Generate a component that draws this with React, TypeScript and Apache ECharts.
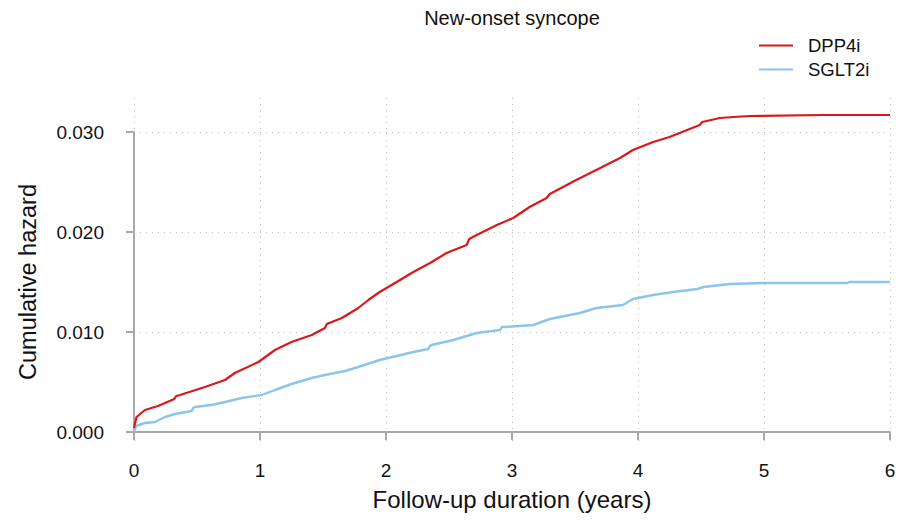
import React, { useEffect, useRef } from "react";
import * as echarts from "echarts";

const titleText = "New-onset syncope";
const xTicks = [0, 1, 2, 3, 4, 5, 6];
const seriesNames = ["DPP4i", "SGLT2i"];

const dppT = [0, 0.02, 0.087, 0.19, 0.32, 0.335, 0.365, 0.563, 0.722, 0.8, 0.987, 1.119, 1.25, 1.41, 1.516, 1.53, 1.65, 1.78, 1.86, 1.95, 2.085, 2.217, 2.35, 2.48, 2.64, 2.66, 2.72, 2.88, 3.01, 3.14, 3.275, 3.3, 3.33, 3.51, 3.7, 3.857, 3.96, 4.12, 4.25, 4.39, 4.49, 4.51, 4.545, 4.65, 4.76, 4.89, 5.47, 6];
const dppV = [0.0004, 0.0015, 0.0022, 0.0026, 0.0033, 0.0036, 0.0037, 0.0045, 0.0052, 0.0059, 0.007, 0.0082, 0.009, 0.0097, 0.0104, 0.0108, 0.0114, 0.0124, 0.0132, 0.014, 0.015, 0.016, 0.0169, 0.0179, 0.0187, 0.0193, 0.0197, 0.0207, 0.0214, 0.0225, 0.0234, 0.0238, 0.024, 0.0252, 0.0264, 0.0274, 0.0282, 0.029, 0.0295, 0.0302, 0.0307, 0.031, 0.0311, 0.0314, 0.0315, 0.0316, 0.0317, 0.0317];

const sgltT = [0, 0.016, 0.087, 0.167, 0.246, 0.325, 0.458, 0.47, 0.484, 0.617, 0.722, 0.855, 1.013, 1.119, 1.25, 1.41, 1.516, 1.675, 1.78, 1.95, 2.085, 2.217, 2.336, 2.35, 2.36, 2.535, 2.72, 2.905, 2.92, 2.944, 3.17, 3.3, 3.54, 3.67, 3.88, 3.96, 4.12, 4.28, 4.47, 4.52, 4.73, 4.99, 5.66, 5.68, 6];
const sgltV = [0.0, 0.0006, 0.0009, 0.001, 0.0015, 0.0018, 0.0021, 0.0024, 0.0025, 0.0027, 0.003, 0.0034, 0.0037, 0.0042, 0.0048, 0.0054, 0.0057, 0.0061, 0.0065, 0.0072, 0.0076, 0.008, 0.0083, 0.0086, 0.0087, 0.0092, 0.0099, 0.0102, 0.0105, 0.0105, 0.0107, 0.0113, 0.0119, 0.0124, 0.0127, 0.0133, 0.0137, 0.014, 0.0143, 0.0145, 0.0148, 0.0149, 0.0149, 0.015, 0.015];

const FONT = "'Liberation Sans', Arial, Helvetica, sans-serif";

export default function App() {
  const ref = useRef<HTMLDivElement>(null);
  useEffect(() => {
    if (!ref.current) return;
    const chart = echarts.init(ref.current, null, { renderer: "svg" });
    const dppData = dppT.map((t, i) => [t, dppV[i]]);
    const sgltData = sgltT.map((t, i) => [t, sgltV[i]]);
    chart.setOption({
      animation: false,
      backgroundColor: "#ffffff",
      title: {
        text: titleText,
        left: 507,
        textAlign: "center",
        top: 3,
        textStyle: { fontFamily: FONT, fontSize: 20, fontWeight: "normal", color: "#111" },
      },
      legend: {
        orient: "vertical",
        left: 759,
        top: 35,
        padding: 0,
        icon: "rect",
        itemWidth: 34,
        itemHeight: 2,
        itemGap: 3,
        data: seriesNames,
        textStyle: { fontFamily: FONT, fontSize: 18.5, color: "#111", lineHeight: 21, padding: [0, 0, 0, 10] },
      },
      grid: [
        { left: 134, right: 18, top: 98, bottom: 76 },
        { left: 134, right: 18, top: 132, bottom: 88 },
      ],
      xAxis: [
        {
          type: "value",
          gridIndex: 0,
          min: 0,
          max: 6,
          interval: 1,
          axisLine: { show: false },
          axisTick: { show: false },
          axisLabel: { show: false },
          splitLine: { show: true, lineStyle: { type: [1, 5], color: "#bbbbbb", width: 1 } },
        },
        {
          type: "value",
          gridIndex: 1,
          min: 0,
          max: 6,
          interval: 1,
          offset: 17,
          name: "Follow-up duration (years)",
          nameLocation: "middle",
          nameGap: 38,
          nameTextStyle: { fontFamily: FONT, fontSize: 24, color: "#111" },
          axisLine: { show: true, lineStyle: { color: "#a8a8a8", width: 2 } },
          axisTick: { show: true, length: 8, lineStyle: { color: "#a8a8a8", width: 2 } },
          axisLabel: { fontFamily: FONT, fontSize: 19, color: "#111", margin: 12 },
          splitLine: { show: false },
        },
      ],
      yAxis: [
        {
          type: "value",
          gridIndex: 0,
          min: 0,
          max: 1,
          show: false,
          splitLine: { show: false },
        },
        {
          type: "value",
          gridIndex: 1,
          min: 0,
          max: 0.03,
          interval: 0.01,
          offset: 14,
          name: "Cumulative hazard",
          nameLocation: "middle",
          nameGap: 80,
          nameTextStyle: { fontFamily: FONT, fontSize: 23.5, color: "#111" },
          axisLine: { show: true, lineStyle: { color: "#a8a8a8", width: 2 } },
          axisTick: { show: true, length: 8, lineStyle: { color: "#a8a8a8", width: 2 } },
          axisLabel: {
            fontFamily: FONT,
            fontSize: 19,
            color: "#111",
            margin: 16,
            formatter: (v: number) => v.toFixed(3),
          },
          splitLine: { show: true, lineStyle: { type: [1, 5], color: "#bbbbbb", width: 1 } },
        },
      ],
      series: [
        {
          name: seriesNames[0],
          type: "line",
          xAxisIndex: 1,
          yAxisIndex: 1,
          data: dppData,
          showSymbol: false,
          symbol: "none",
          clip: false,
          lineStyle: { color: "#d7191c", width: 2.2 },
          itemStyle: { color: "#d7191c" },
          z: 3,
        },
        {
          name: seriesNames[1],
          type: "line",
          xAxisIndex: 1,
          yAxisIndex: 1,
          data: sgltData,
          showSymbol: false,
          symbol: "none",
          clip: false,
          lineStyle: { color: "#8cc4ea", width: 2.4 },
          itemStyle: { color: "#8cc4ea" },
          z: 2,
        },
      ],
    });
    return () => chart.dispose();
  }, []);
  return (
    <div
      ref={ref}
      style={{ position: "absolute", left: 0, top: 0, width: 908, height: 520 }}
    />
  );
}
